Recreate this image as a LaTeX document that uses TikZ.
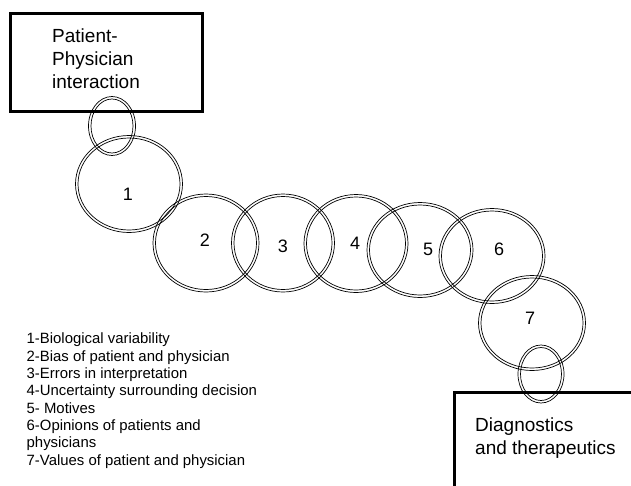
\documentclass[tikz,border=0pt]{standalone}
\usepackage{fontspec}
\setmainfont{Liberation Sans}
\usetikzlibrary{shapes.geometric}
\tikzset{
  ring/.style={ellipse, draw=black, line width=0.7pt, inner sep=0pt, outer sep=0pt},
  framebox/.style={rectangle, draw=black, line width=3pt, inner sep=0pt},
  boxtext/.style={anchor=base west, align=left, inner sep=0pt, font=\fontsize{19}{23}\selectfont},
  numlabel/.style={inner sep=0pt, font=\fontsize{18}{20}\selectfont},
  legend/.style={anchor=base west, align=left, inner sep=0pt, font=\fontsize{14.9}{17.3}\selectfont}
}
\newcommand{\dring}[5]{% name, x, y, w, h
  \node[ring, minimum width=#4pt+1pt, minimum height=#5pt+1pt] (#1) at (#2,#3) {};
  \node[ring, minimum width=#4pt-4pt, minimum height=#5pt-4pt] (#1i) at (#2,#3) {};
}
\begin{document}
\begin{tikzpicture}[x=1pt,y=-1pt]
\clip (0,0) rectangle (631,485);
\fill[white] (0,0) rectangle (631,485);
% boxes
\node[framebox, minimum width=192pt, minimum height=98pt] (pp) at (106,62) {};
\node[boxtext] (ppt) at (52,88) {Patient-\\Physician\\interaction};
\node[framebox, anchor=north west, minimum width=260pt, minimum height=160pt] (dt) at (453,391) {};
\node[boxtext] (dtt) at (475,454) {Diagnostics\\and therapeutics};
% rings
\dring{e0}{112}{126}{46}{58}
\dring{c1}{129}{184}{106}{96}
\dring{c2}{206}{243}{105}{97}
\dring{c3}{283}{243}{102}{97}
\dring{c4}{356}{243.5}{103}{97}
\dring{c5}{420}{250}{105}{94}
\dring{c6}{492}{256}{105}{94}
\dring{c7}{532}{323}{106}{94}
\dring{e8}{541}{374}{45}{57}
% labels
\node[numlabel] (l1) at (128,194) {1};
\node[numlabel] (l2) at (205,240) {2};
\node[numlabel] (l3) at (283,246) {3};
\node[numlabel] (l4) at (355,243) {4};
\node[numlabel] (l5) at (428,249) {5};
\node[numlabel] (l6) at (499,249) {6};
\node[numlabel] (l7) at (530,318) {7};
% legend
\node[legend] (leg) at (26.5,465) {1-Biological variability\\2-Bias of patient and physician\\3-Errors in interpretation\\4-Uncertainty surrounding decision\\5- Motives\\6-Opinions of patients and\\physicians\\7-Values of patient and physician};
\end{tikzpicture}
\end{document}
